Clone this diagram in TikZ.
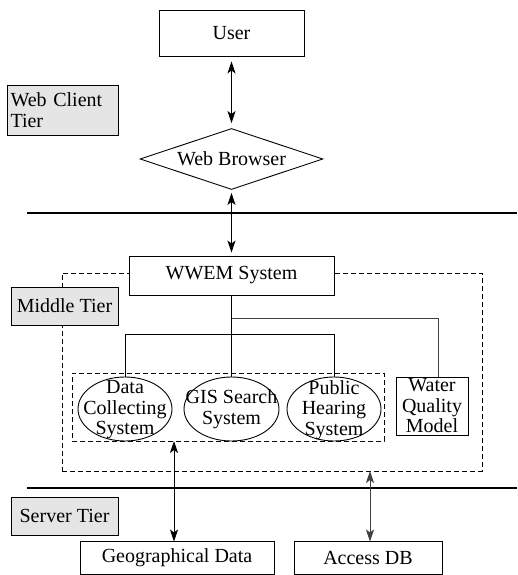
\documentclass[tikz,border=0pt]{standalone}
\usepackage{fontspec}
\setmainfont{Liberation Serif}
\usetikzlibrary{arrows.meta,shapes.geometric,calc}
\begin{document}
\begin{tikzpicture}[x=1pt,y=-1pt,
  font=\fontsize{20}{20.5}\selectfont,
  box/.style={draw,line width=0.9pt,fill=white,inner sep=0pt},
  tier/.style={draw,line width=0.9pt,fill=black!10,inner sep=0pt,align=left},
  dbox/.style={draw,line width=0.9pt,dash pattern=on 5pt off 3pt,inner sep=0pt},
  link/.style={line width=0.9pt},
  arr/.style={line width=0.9pt,{Stealth[length=12pt,width=8pt,inset=3pt]}-{Stealth[length=12pt,width=8pt,inset=3pt]}},
  sep/.style={line width=1.8pt}]
\useasboundingbox (0,0) rectangle (517,575);
\fill[white] (0,0) rectangle (517,575);
% outer dashed region (middle tier)
\node[dbox,minimum width=420pt,minimum height=198pt] (outer) at (272,372) {};
% tier labels
\node[tier,minimum width=111pt,minimum height=50pt,text width=104pt] (wct) at (62.5,110) {Web Client\\Tier};
\node[tier,minimum width=107pt,minimum height=38pt] (mt) at (64.5,306) {Middle Tier};
\node[tier,minimum width=107pt,minimum height=38pt] (st) at (64.5,516) {Server Tier};
% separators
\coordinate (s1a) at (27,213); \coordinate (s1b) at (517,213);
\coordinate (s2a) at (27,488); \coordinate (s2b) at (517,488);
\draw[sep] (s1a) -- (s1b);
\draw[sep] (s2a) -- (s2b);
% nodes
\node[box,minimum width=145pt,minimum height=46pt] (user) at (231.5,33) {User};
\node[draw,line width=0.9pt,diamond,aspect=3,inner sep=0pt,minimum width=183pt,minimum height=61pt] (wb) at (231.5,159) {Web Browser};
\node[box,minimum width=205pt,minimum height=39pt] (wwem) at (231.5,275.5) {WWEM System};
\node[dbox,minimum width=312pt,minimum height=68pt] (inner) at (228,407) {};
\node[draw,line width=0.9pt,ellipse,inner sep=0pt,minimum width=94pt,minimum height=64pt] (e1) at (125,409) {};
\node[draw,line width=0.9pt,ellipse,inner sep=0pt,minimum width=95pt,minimum height=64pt] (e2) at (231.5,409) {};
\node[draw,line width=0.9pt,ellipse,inner sep=0pt,minimum width=94pt,minimum height=64pt] (e3) at (334,409) {};
\node[align=center] (t1) at (125,410) {Data\\Collecting\\System};
\node[align=center] (t2) at (231.5,409) {GIS Search\\System};
\node[align=center] (t3) at (334,410) {Public\\Hearing\\System};
\node[box,minimum width=72pt,minimum height=58pt,align=center] (wq) at (432,406) {Water\\Quality\\Model};
\node[box,minimum width=194pt,minimum height=33pt] (geo) at (177,558) {Geographical Data};
\node[box,minimum width=148pt,minimum height=33pt] (adb) at (368,558) {Access DB};
% tree
\coordinate (j1) at (231.5,318);
\coordinate (j2) at (231.5,334);
\coordinate (wqt) at (438,377);
\draw[link] (wwem.south) -- (j2);
\draw[link] (e1.north) |- (j2);
\draw[link] (e3.north) |- (j2);
\draw[link] (j2) -- (e2.north);
\draw[link,black!75] (j1) -| (wqt);
% arrows
\draw[arr,shorten <=5pt,shorten >=5pt] (user.south) -- (wb.north);
\draw[arr,shorten <=3pt,shorten >=3pt] (wb.south) -- (wwem.north);
\coordinate (ga) at (174,441);
\coordinate (gb) at (174,541.5);
\draw[arr] (ga) -- (gb);
\coordinate (aa) at (370,471);
\coordinate (ab) at (370,541.5);
\draw[arr,black!75] (aa) -- (ab);
\end{tikzpicture}
\end{document}
